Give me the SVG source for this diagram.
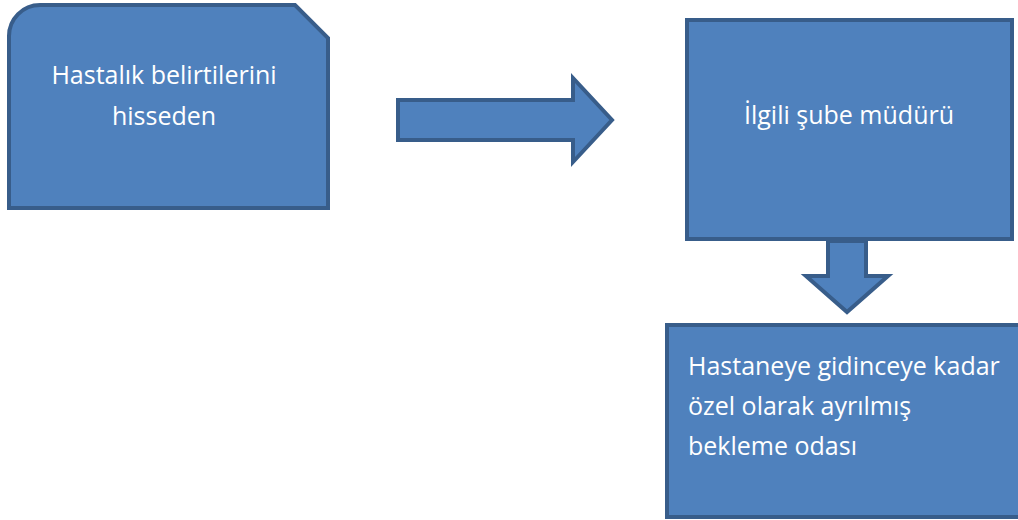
<svg xmlns="http://www.w3.org/2000/svg" width="1018" height="520" viewBox="0 0 1018 520">
<style>
.shape{fill:#4F81BD;stroke:#385D8A;stroke-width:4;stroke-linejoin:miter}
.t{font-family:"Open Sans","Noto Sans","Liberation Sans",sans-serif;font-size:25px;fill:#FFFFFF}
</style>
<rect width="1018" height="520" fill="#FFFFFF"/>
<g id="node-hastalik">
<path class="shape" d="M9,208 L9,36 A31,31 0 0 1 40,5 L295,5 L328,38 L328,208 Z"/>
<text class="t" x="164" y="84" text-anchor="middle">Hastalık belirtilerini</text>
<text class="t" x="164" y="125" text-anchor="middle">hisseden</text>
</g>
<g id="node-mudur">
<rect class="shape" x="687" y="20" width="325" height="219"/>
<text class="t" x="849" y="124" text-anchor="middle">İlgili şube müdürü</text>
</g>
<g id="node-oda">
<rect class="shape" x="667" y="325" width="360" height="192"/>
<text class="t" x="688" y="375">Hastaneye gidinceye kadar</text>
<text class="t" x="688" y="415">özel olarak ayrılmış</text>
<text class="t" x="688" y="455">bekleme odası</text>
</g>
<g id="connectors">
<path class="shape" d="M398,100 L573,100 L573,78 L612,120 L573,162 L573,140 L398,140 Z"/>
<path class="shape" d="M828,241 L866,241 L866,276 L888,276 L847,312 L806,276 L828,276 Z"/>
</g>
</svg>
